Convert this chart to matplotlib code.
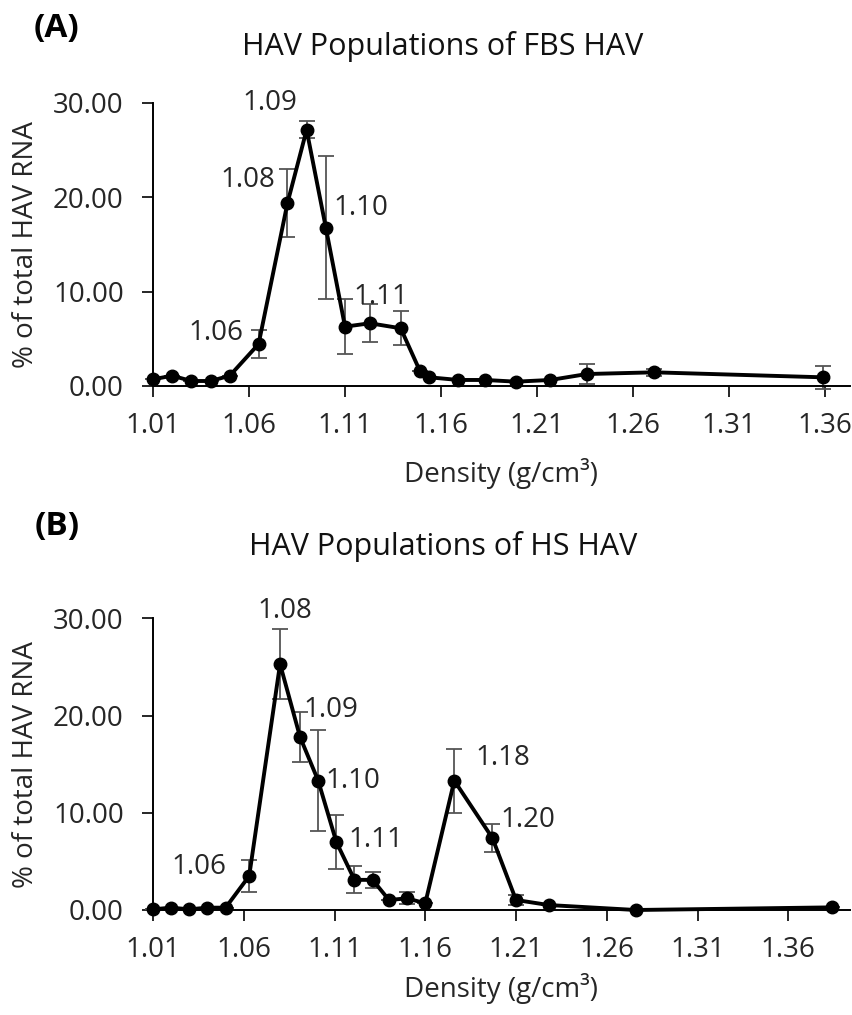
import numpy as np
import matplotlib
matplotlib.use("Agg")
import matplotlib.pyplot as plt

plt.rcParams['font.family'] = ['Open Sans', 'DejaVu Sans']

# Panel A - FBS HAV
fbs_density = [1.010, 1.020, 1.030, 1.040, 1.050, 1.065, 1.080, 1.090, 1.100,
               1.110, 1.123, 1.139, 1.149, 1.154, 1.169, 1.183, 1.199, 1.217,
               1.236, 1.271, 1.359]
fbs_pct = [0.71, 1.09, 0.53, 0.53, 1.09, 4.45, 19.37, 27.15, 16.8, 6.29, 6.65,
           6.12, 1.6, 0.92, 0.64, 0.64, 0.46, 0.64, 1.27, 1.45, 0.92]
fbs_err = [0, 0, 0, 0, 0, 1.5, 3.6, 0.9, 7.6, 2.9, 2.0, 1.8, 0, 0, 0, 0, 0, 0,
           1.06, 0.4, 1.2]
fbs_labels = {5: "1.06", 6: "1.08", 7: "1.09", 8: "1.10", 9: "1.11"}

# Panel B - HS HAV
hs_density = [1.010, 1.020, 1.030, 1.040, 1.050, 1.063, 1.080, 1.091, 1.101,
              1.111, 1.121, 1.131, 1.140, 1.150, 1.160, 1.176, 1.197, 1.210,
              1.228, 1.276, 1.384]
hs_pct = [0.07, 0.24, 0.07, 0.24, 0.24, 3.5, 25.3, 17.8, 13.3, 7.0, 3.1, 3.1,
          1.03, 1.2, 0.69, 13.3, 7.4, 1.03, 0.51, 0.0, 0.27]
hs_err = [0, 0, 0, 0, 0, 1.6, 3.55, 2.6, 5.2, 2.8, 1.4, 0.85, 0, 0.6, 0, 3.3,
          1.45, 0.5, 0, 0, 0]
hs_labels = {5: "1.06", 6: "1.08", 7: "1.09", 8: "1.10", 9: "1.11",
             15: "1.18", 16: "1.20"}

xticks = [1.01, 1.06, 1.11, 1.16, 1.21, 1.26, 1.31, 1.36]
yticks = [0, 10, 20, 30]

# label offsets in pixels (dx, dy)
fbs_off = {5: (-43, 11), 6: (-40, 23), 7: (-37, 27), 8: (35, 20), 9: (36, 30)}
hs_off = {5: (-50, 9), 6: (5, 53), 7: (31, 27), 8: (35, 0), 9: (40, 2),
          15: (49, 23), 16: (35, 18)}

W, H = 853, 1015
fig = plt.figure(figsize=(W / 100, H / 100), dpi=100)
TXT = '#262626'


def panel(rect, x, y, err, labels, offs, xmax, title, letter, title_y,
          letter_y, xlab_off):
    ax = fig.add_axes(rect)
    ax.errorbar(x, y, yerr=err, fmt='none', ecolor='#555555', elinewidth=1.3,
                capsize=5.5, capthick=1.3, zorder=2)
    ax.plot(x, y, '-o', color='black', lw=2.8, ms=9, zorder=3)
    for i, txt in labels.items():
        dx, dy = offs[i]
        ax.annotate(txt, (x[i], y[i]), xytext=(dx, dy), textcoords='offset pixels',
                    ha='center', va='center', fontsize=20, color=TXT)
    ax.set_xlim(1.01, xmax)
    ax.set_ylim(0, 30)
    ax.set_xticks(xticks)
    ax.set_xticklabels([f"{t:.2f}" for t in xticks])
    ax.set_yticks(yticks)
    ax.set_yticklabels([f"{t:.2f}" for t in yticks])
    ax.spines['top'].set_visible(False)
    ax.spines['right'].set_visible(False)
    ax.spines['left'].set_linewidth(1.4)
    ax.spines['bottom'].set_linewidth(1.4)
    ax.tick_params(axis='both', direction='out', length=8, width=1.4,
                   labelsize=20, colors=TXT)
    ax.tick_params(axis='y', pad=13)
    ax.tick_params(axis='x', pad=11)
    for art in ax.get_children():
        art.set_clip_on(False)
    hpx = rect[3] * H
    ax.set_xlabel("Density (g/cm³)", fontsize=20, color=TXT, va='baseline')
    ax.xaxis.set_label_coords(0.5, -xlab_off / hpx)
    ax.set_ylabel("% of total HAV RNA", fontsize=20, color=TXT, va='center')
    ax.yaxis.set_label_coords((26 - 153) / 697, 0.5)
    fig.text(443 / W, 1 - title_y / H, title, ha='center', va='baseline',
             fontsize=22, color='#111111')
    fig.text(57 / W, 1 - letter_y / H, letter, ha='center', va='center',
             fontsize=24, fontweight='bold', color='black')
    return ax


panel([153 / W, 1 - 386 / H, 697 / W, 283 / H], fbs_density, fbs_pct, fbs_err,
      fbs_labels, fbs_off, 1.373, "HAV Populations of FBS HAV", "(A)", 55, 28,
      96)
panel([153 / W, 1 - 910 / H, 697 / W, 291.7 / H], hs_density, hs_pct, hs_err,
      hs_labels, hs_off, 1.394, "HAV Populations of HS HAV", "(B)", 555, 526,
      87)

fig.savefig("out.png", dpi=100)
